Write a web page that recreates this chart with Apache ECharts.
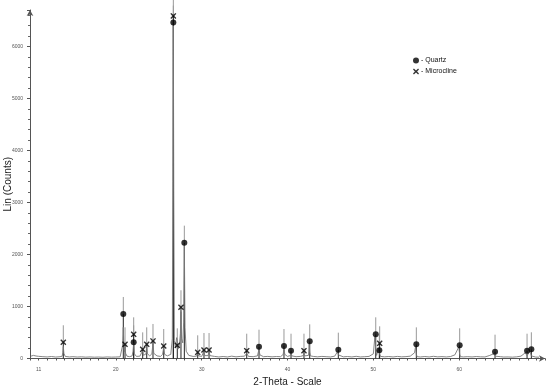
<!DOCTYPE html>
<html>
<head>
<meta charset="utf-8">
<script src="https://cdn.jsdelivr.net/npm/echarts@6/dist/echarts.min.js"></script>
<style>html,body{margin:0;padding:0;background:#fff}#c{width:550px;height:392px}</style>
</head>
<body>
<div id="c"></div>
<script>
// XRD pattern (2-Theta, Lin counts)
const patternX = [10.1,10.4,10.7,11.0,11.5,12.0,12.5,13.0,13.5,13.75,13.82,13.88,13.95,14.1,14.6,15.0,15.5,16.0,16.5,17.0,17.5,18.0,18.5,19.0,19.5,20.0,20.5,20.72,20.8,20.87,20.94,21.0,21.07,21.14,21.3,21.6,21.9,22.0,22.08,22.16,22.4,22.8,23.0,23.13,23.22,23.45,23.52,23.6,23.68,23.95,24.2,24.33,24.42,24.8,25.2,25.45,25.58,25.68,26.0,26.4,26.58,26.65,26.7,26.75,26.82,26.95,27.08,27.16,27.24,27.4,27.52,27.59,27.66,27.8,27.9,27.98,28.06,28.2,28.5,29.0,29.4,29.54,29.64,30.0,30.2,30.27,30.36,30.75,30.86,30.96,31.5,32.0,32.5,33.0,33.5,34.0,34.5,35.0,35.25,35.45,36.0,36.5,36.6,36.68,36.78,37.2,37.7,38.2,38.7,39.2,39.5,39.59,39.68,40.0,40.32,40.41,40.5,41.0,41.5,41.83,41.92,42.01,42.45,42.52,42.59,42.68,43.0,43.5,44.0,44.5,45.0,45.5,45.82,45.92,46.02,46.5,47.0,47.5,48.0,48.5,49.0,49.5,50.0,50.18,50.28,50.38,50.6,50.74,50.84,51.3,51.8,52.3,52.8,53.3,53.8,54.3,54.8,54.92,55.01,55.1,55.5,56.0,56.5,57.0,57.5,58.0,58.5,59.0,59.5,59.95,60.06,60.15,60.5,61.0,61.5,62.0,62.5,63.0,63.5,64.0,64.18,64.3,64.8,65.2,65.7,66.2,66.7,67.2,67.7,67.91,68.02,68.25,68.41,68.55,68.9,69.3,69.7];
const patternY = [45,60,48,42,35,30,38,28,34,45,120,230,100,40,30,35,28,32,26,30,25,28,24,30,26,28,32,45,260,600,210,130,250,100,45,35,50,140,300,90,40,45,70,150,60,70,90,260,90,50,90,300,100,50,40,80,220,80,50,80,380,3400,6400,3200,350,200,400,350,180,250,480,900,380,300,700,2200,600,140,60,40,45,100,50,40,60,140,55,55,140,55,40,30,38,30,45,32,40,45,100,40,35,50,80,180,70,35,40,32,38,35,80,200,80,40,55,120,50,35,40,55,110,50,60,280,120,50,40,32,40,35,30,45,130,70,40,32,38,30,42,30,35,40,90,420,160,60,200,80,40,32,38,30,40,32,36,45,110,230,80,35,30,38,30,42,32,36,30,38,70,220,80,35,30,35,30,38,32,30,55,90,45,30,35,28,30,26,32,45,110,55,80,140,50,30,28,25];

// Phase markers
const quartzX = [20.87,22.08,26.70,27.98,36.68,39.59,40.41,42.59,45.92,50.28,50.70,55.01,60.06,64.18,67.91,68.41];
const quartzY = [856,311,6458,2227,227,240,150,330,170,465,157,272,253,131,150,177];
const microX = [13.88,21.07,22.08,23.13,23.60,24.33,25.58,26.70,27.16,27.59,29.54,30.27,30.86,35.25,41.92,50.74];
const microY = [312,272,465,176,272,337,240,6587,253,985,119,163,163,150,150,292];

// Axis tick labels
const xTickLabels = [11,20,30,40,50,60];
const yTickLabels = [0,1000,2000,3000,4000,5000,6000];

const pattern = patternX.map((x,i)=>[x,patternY[i]]);
const quartz = quartzX.map((x,i)=>[x,quartzY[i]]);
const micro = microX.map((x,i)=>[x,microY[i]]);
const sticks = quartz.concat(micro);

const xPath = 'path://M1.5,0L5,3.2L8.5,0L10,1.5L6.8,5L10,8.5L8.5,10L5,6.8L1.5,10L0,8.5L3.2,5L0,1.5Z';
const FONT = 'Liberation Sans, Arial, sans-serif';

const chart = echarts.init(document.getElementById('c'), null, {renderer:'canvas'});
chart.setOption({
  animation:false,
  backgroundColor:'#fff',
  grid:{left:30,right:5,top:10,bottom:33.5,containLabel:false,outerBoundsMode:'none'},
  legend:{
    orient:'vertical', left:408, top:52, itemWidth:6, itemHeight:6, itemGap:4,
    data:[{name:'Quartz',icon:'circle'},{name:'Microcline',icon:xPath}],
    formatter:n=>'- '+n,
    textStyle:{fontSize:7,fontFamily:FONT,color:'#111',padding:[0,0,0,-3]}
  },
  xAxis:{
    type:'value', min:10, max:70, interval:1,
    name:'2-Theta - Scale', nameLocation:'middle', nameGap:19, nameMoveOverlap:false,
    nameTextStyle:{fontSize:10,fontFamily:FONT,color:'#222'},
    axisLine:{show:true,symbol:['none','arrow'],symbolSize:[5,6],lineStyle:{color:'#555',width:1}},
    axisTick:{show:true,length:2,lineStyle:{color:'#555'}},
    axisLabel:{fontSize:5,color:'#555',fontFamily:FONT,margin:9,
      formatter:v=>xTickLabels.indexOf(Math.round(v))>=0 && Math.abs(v-Math.round(v))<1e-6 ? String(Math.round(v)) : ''},
    splitLine:{show:false}
  },
  yAxis:{
    type:'value', min:0, max:6700, interval:1000,
    name:'Lin (Counts)', nameLocation:'middle', nameGap:17, nameMoveOverlap:false,
    nameTextStyle:{fontSize:10,fontFamily:FONT,color:'#222'},
    axisLine:{show:true,symbol:['none','arrow'],symbolSize:[5,6],lineStyle:{color:'#555',width:1}},
    axisTick:{show:true,length:3,lineStyle:{color:'#555'}},
    minorTick:{show:true,splitNumber:5,length:2,lineStyle:{color:'#666'}},
    axisLabel:{fontSize:5,color:'#555',fontFamily:FONT,margin:7,
      formatter:v=>yTickLabels.indexOf(v)>=0 ? String(v) : ''},
    splitLine:{show:false}
  },
  series:[
    {
      type:'custom', name:'sticks', silent:true, z:1,
      data:sticks,
      renderItem:(params,api)=>{
        const p0 = api.coord([api.value(0),0]);
        const p1 = api.coord([api.value(0),api.value(1)]);
        return {type:'group',children:[
          {type:'line',shape:{x1:p0[0],y1:p0[1],x2:p1[0],y2:p1[1]},style:{stroke:'#222',lineWidth:1}},
          {type:'line',shape:{x1:p1[0],y1:p1[1],x2:p1[0],y2:p1[1]-17},style:{stroke:'#999',lineWidth:1}}
        ]};
      }
    },
    {
      type:'line', name:'pattern', data:pattern, showSymbol:false, symbol:'none', z:2,
      lineStyle:{color:'#777',width:0.9}
    },
    {
      type:'scatter', name:'Quartz', data:quartz, symbol:'circle', symbolSize:6, z:3,
      itemStyle:{color:'#000'}
    },
    {
      type:'scatter', name:'Microcline', data:micro, symbol:xPath, symbolSize:6, z:3,
      itemStyle:{color:'#000'}
    }
  ]
});
</script>
</body>
</html>
